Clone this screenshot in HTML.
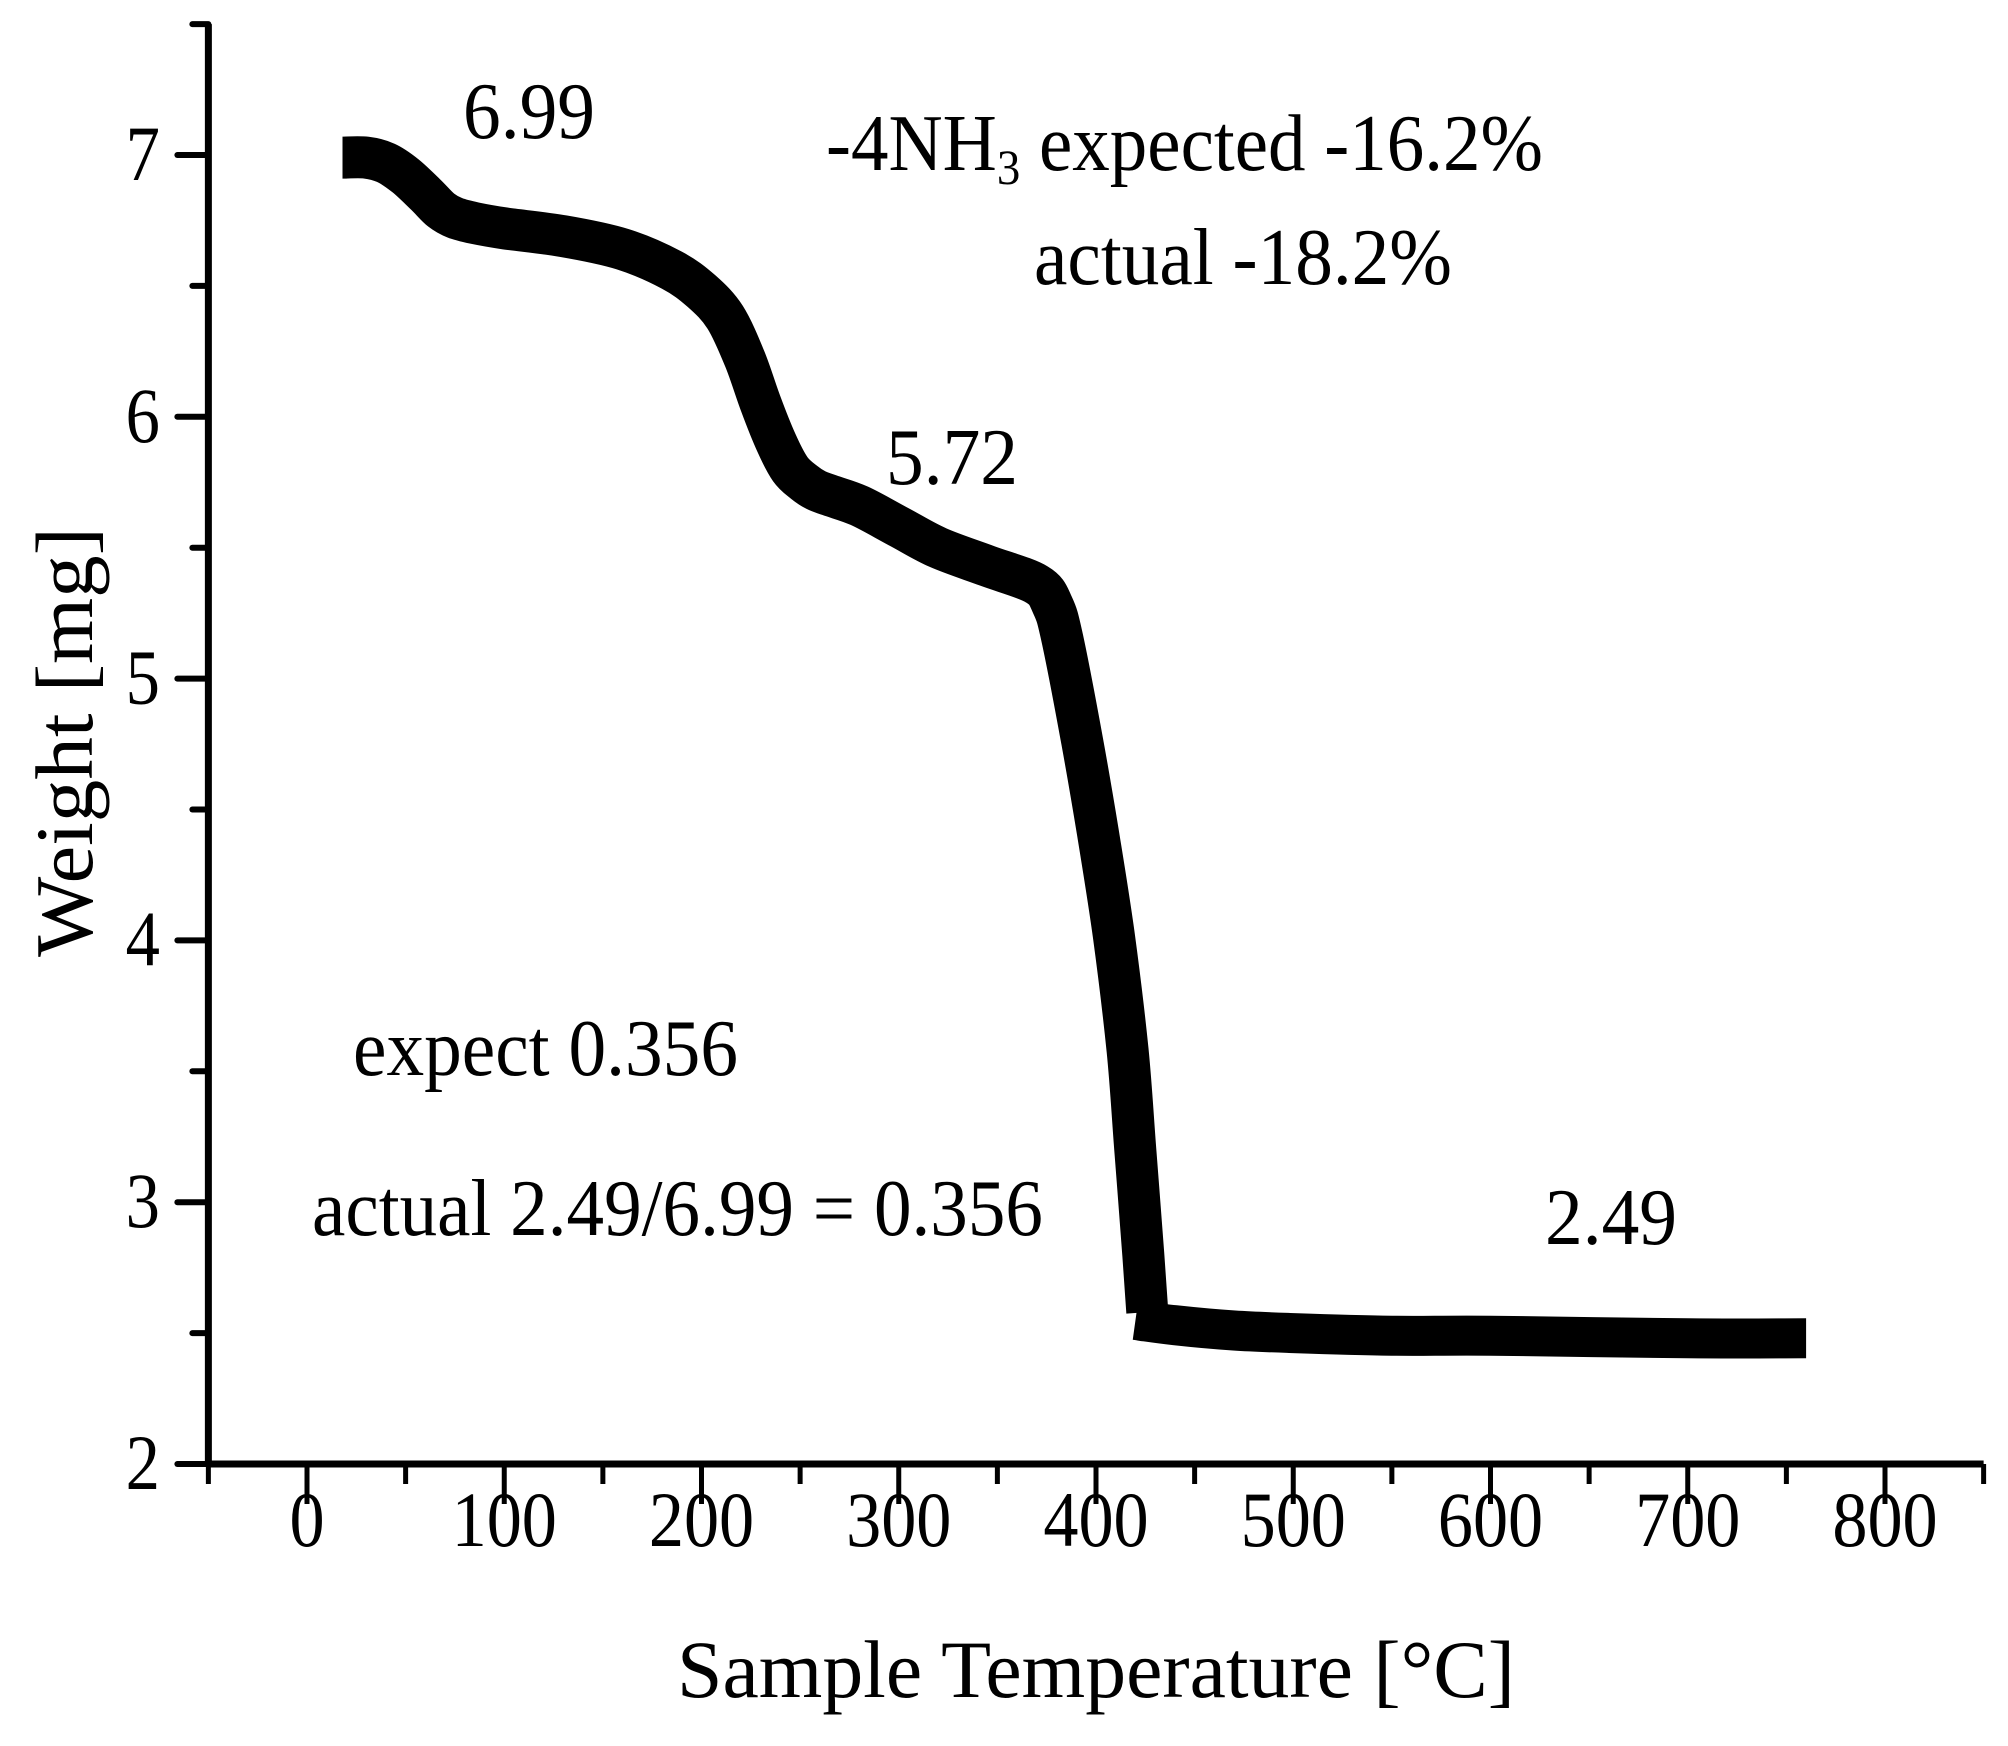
<!DOCTYPE html>
<html><head><meta charset="utf-8"><style>
html,body{margin:0;padding:0;background:#fff;}
svg text{font-family:"Liberation Serif",serif;fill:#000;}
</style></head><body>
<svg id="chart" width="2008" height="1741" viewBox="0 0 2008 1741">
<g id="axes"></g>
<g id="plot"></g>
<g id="notes">
<text x="463" y="138" font-size="80" textLength="132" lengthAdjust="spacingAndGlyphs">6.99</text>
<text x="826" y="170" font-size="80" textLength="717" lengthAdjust="spacingAndGlyphs">-4NH<tspan font-size="50" dy="14">3</tspan><tspan dy="-14"> expected -16.2%</tspan></text>
<text x="1034" y="284" font-size="80" textLength="418" lengthAdjust="spacingAndGlyphs">actual -18.2%</text>
<text x="886" y="484" font-size="80" textLength="132" lengthAdjust="spacingAndGlyphs">5.72</text>
<text x="353" y="1075" font-size="80" textLength="385" lengthAdjust="spacingAndGlyphs">expect 0.356</text>
<text x="312" y="1235" font-size="80" textLength="731" lengthAdjust="spacingAndGlyphs">actual 2.49/6.99 = 0.356</text>
<text x="1545" y="1244" font-size="80" textLength="132" lengthAdjust="spacingAndGlyphs">2.49</text>
</g>
</svg>
<script>
const temps=[18,30,40,50,60,68,75,85,100,130,160,185,200,212,222,230,238,245,252,258,265,280,300,320,345,370,378,383,393,401,409,416,420,424,426];
const weights=[6.99,6.99,6.97,6.92,6.85,6.79,6.76,6.74,6.72,6.69,6.64,6.56,6.48,6.38,6.22,6.05,5.90,5.80,5.75,5.72,5.70,5.66,5.58,5.50,5.43,5.36,5.28,5.15,4.76,4.41,4.02,3.58,3.19,2.80,2.58];
const tailTemps=[420,440,470,500,550,600,700,760];
const tailWeights=[2.55,2.53,2.51,2.50,2.49,2.49,2.48,2.48];
const xTicks=[0,100,200,300,400,500,600,700,800];
const yTicks=[2,3,4,5,6,7];
const X0=-50,X1=850,Y0=2,Y1=7.5;
function sx(t){return 307+(t-0)*(1885-307)/800;}
function sy(w){return 1464-(w-2)*(1464-155)/5;}
const NS="http://www.w3.org/2000/svg";
function mk(tag,attrs,parent){const e=document.createElementNS(NS,tag);for(const k in attrs)e.setAttribute(k,attrs[k]);parent.appendChild(e);return e;}
const axes=document.getElementById('axes');
const plot=document.getElementById('plot');
let a=mk('line',{x1:sx(X0),y1:sy(Y0),x2:sx(X1),y2:sy(Y0),stroke:'#000','stroke-width':7},axes);


a=mk('line',{x1:sx(X0),y1:sy(Y0)+3,x2:sx(X0),y2:sy(Y1),stroke:'#000','stroke-width':7},axes);


for(let t=X0;t<=X1;t+=50){const major=t%100===0;
 const l=mk('line',{x1:sx(t),y1:sy(Y0),x2:sx(t),y2:sy(Y0)+(major?40:20),stroke:'#000','stroke-width':5},axes);
 
 }
xTicks.forEach(t=>{const tx=mk('text',{'font-size':78,'text-anchor':'middle',transform:'translate('+sx(t)+',1546) scale(0.9,1)'},axes);tx.textContent=t;
 
 });
for(let w=Y0;w<=Y1+0.001;w+=0.5){const major=Math.abs(w-Math.round(w))<0.01;
 const l=mk('line',{x1:sx(X0),y1:sy(w),x2:sx(X0)-(major?31:16),y2:sy(w),stroke:'#000','stroke-width':6,'stroke-linecap':'round'},axes);
 
 }
yTicks.forEach(w=>{const tx=mk('text',{'font-size':78,'text-anchor':'end',transform:'translate(160,'+(sy(w)+25)+') scale(0.88,1)'},axes);tx.textContent=w;
 
 });
let xt=mk('text',{x:677,y:1697,'font-size':82,textLength:838,lengthAdjust:'spacingAndGlyphs'},axes);xt.textContent='Sample Temperature [°C]';


let yt=mk('text',{x:-215,y:0,'font-size':82,textLength:430,lengthAdjust:'spacingAndGlyphs',transform:'translate(92,742) rotate(-90)'},axes);yt.textContent='Weight [mg]';


function path(ts,ws){
 const P=ts.map((t,i)=>[sx(t),sy(ws[i])]);
 let d='M'+P[0][0].toFixed(1)+','+P[0][1].toFixed(1);
 for(let i=0;i<P.length-1;i++){const p0=P[Math.max(0,i-1)],p1=P[i],p2=P[i+1],p3=P[Math.min(P.length-1,i+2)];
  const c1=[p1[0]+(p2[0]-p0[0])/6,p1[1]+(p2[1]-p0[1])/6],c2=[p2[0]-(p3[0]-p1[0])/6,p2[1]-(p3[1]-p1[1])/6];
  d+='C'+c1[0].toFixed(1)+','+c1[1].toFixed(1)+' '+c2[0].toFixed(1)+','+c2[1].toFixed(1)+' '+p2[0].toFixed(1)+','+p2[1].toFixed(1);}
 return d;}
let p=mk('path',{d:path(temps,weights),fill:'none',stroke:'#000','stroke-width':42,'stroke-linejoin':'round'},plot);


let p2=mk('path',{d:path(tailTemps,tailWeights),fill:'none',stroke:'#000','stroke-width':40,'stroke-linejoin':'round'},plot);


</script>
</body></html>
